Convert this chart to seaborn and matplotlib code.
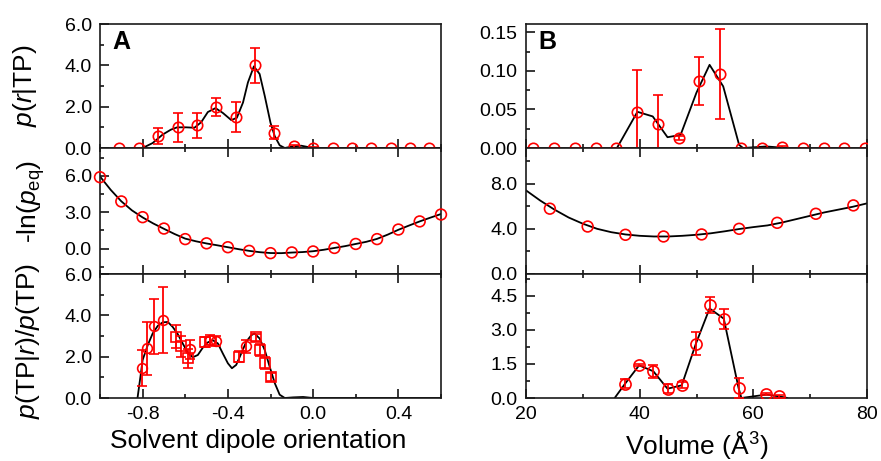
import numpy as np
import pandas as pd
import seaborn as sns
import matplotlib
matplotlib.use("Agg")
import matplotlib.pyplot as plt
from matplotlib.ticker import MultipleLocator, FormatStrFormatter

# ---------------- data ----------------
# Panel A, top: p(r|TP)
a1_x = [-0.909, -0.818, -0.727, -0.636, -0.545, -0.455, -0.364, -0.273, -0.182,
        -0.091, 0.0, 0.091, 0.182, 0.273, 0.364, 0.455, 0.545]
a1_y = [0, 0, 0.57, 1.0, 1.1, 1.98, 1.5, 4.0, 0.75, 0.08, 0.0, 0.0, 0.0, 0, 0, 0, 0]
a1_err = [0, 0, 0.4, 0.7, 0.6, 0.42, 0.72, 0.86, 0.33, 0.06, 0.03, 0.02, 0.02, 0, 0, 0, 0]
a1_line_x = [-0.8, -0.753, -0.706, -0.667, -0.638, -0.596, -0.557, -0.525, -0.494,
             -0.458, -0.424, -0.384, -0.358, -0.329, -0.306, -0.278, -0.251, -0.227,
             -0.2, -0.18, -0.157, -0.133, -0.094, -0.055, -0.016, 0.016, 0.6]
a1_line_y = [0, 0.24, 0.65, 0.89, 1.0, 1.0, 0.98, 1.25, 1.74, 1.93, 1.7, 1.35, 1.46,
             2.2, 3.17, 3.95, 3.58, 2.52, 1.22, 0.57, 0.13, 0, 0.08, 0.11, 0.03, 0, 0]

# Panel A, middle: -ln(p_eq)
a2_x = [-1.0, -0.9, -0.8, -0.7, -0.6, -0.5, -0.4, -0.3, -0.2, -0.1, 0.0, 0.1, 0.2,
        0.3, 0.4, 0.5, 0.6]
a2_y = [5.89, 3.89, 2.59, 1.65, 0.78, 0.43, 0.11, -0.19, -0.38, -0.32, -0.24, 0.05,
        0.38, 0.78, 1.57, 2.24, 2.81]
a2_line_x = [-1.0, -0.95, -0.9, -0.85, -0.8, -0.75, -0.7, -0.65, -0.6, -0.55, -0.5,
             -0.45, -0.4, -0.35, -0.3, -0.25, -0.2, -0.15, -0.1, -0.05, 0.0, 0.05,
             0.1, 0.15, 0.2, 0.25, 0.3, 0.35, 0.4, 0.45, 0.5, 0.55, 0.6]
a2_line_y = [5.95, 4.85, 3.9, 3.15, 2.57, 2.07, 1.63, 1.2, 0.82, 0.6, 0.42, 0.27,
             0.11, -0.05, -0.19, -0.3, -0.37, -0.38, -0.33, -0.29, -0.22, -0.1, 0.05,
             0.2, 0.38, 0.56, 0.8, 1.15, 1.55, 1.9, 2.24, 2.55, 2.85]

# Panel A, bottom: p(TP|r)/p(TP)
a3_circ_x = [-0.803, -0.781, -0.745, -0.706, -0.577, -0.483, -0.455, -0.314]
a3_circ_y = [1.44, 2.4, 3.47, 3.76, 2.35, 2.8, 2.77, 2.5]
a3_circ_err = [0.88, 1.28, 1.32, 1.6, 0.45, 0.25, 0.25, 0.3]
a3_sq_x = [-0.643, -0.62, -0.588, -0.505, -0.348, -0.267, -0.251, -0.227, -0.196]
a3_sq_y = [2.96, 2.5, 1.92, 2.72, 2.0, 2.93, 2.32, 1.68, 1.0]
a3_sq_err = [0.56, 0.5, 0.45, 0.25, 0.28, 0.16, 0.3, 0.28, 0.2]
a3_line_x = [-0.824, -0.808, -0.80, -0.776, -0.753, -0.729, -0.706, -0.682, -0.659,
             -0.635, -0.612, -0.588, -0.565, -0.541, -0.518, -0.494, -0.471, -0.447,
             -0.424, -0.4, -0.381, -0.361, -0.337, -0.314, -0.29, -0.275, -0.251,
             -0.227, -0.204, -0.18, -0.157, -0.133, -0.094, -0.047, 0.0, 0.6]
a3_line_y = [0, 1.2, 1.84, 2.56, 3.12, 3.49, 3.66, 3.68, 3.44, 3.09, 2.64, 2.19, 1.97,
             2.08, 2.43, 2.69, 2.8, 2.64, 2.16, 1.68, 1.44, 1.6, 2.16, 2.72, 3.04, 3.12,
             2.88, 2.32, 1.52, 0.72, 0.16, 0, 0.03, 0.05, 0, 0]

# Panel B, top
b1_x = [21.3, 24.9, 28.6, 32.3, 35.9, 39.6, 43.3, 46.9, 50.5, 54.1, 57.8, 61.5,
        65.1, 68.8, 72.4, 76.0, 79.7]
b1_y = [0, 0, 0, 0, 0, 0.047, 0.031, 0.013, 0.087, 0.096, 0, 0, 0.001, 0, 0, 0, 0]
b1_err = [0, 0, 0, 0, 0, 0.054, 0.038, 0.003, 0.031, 0.058, 0, 0, 0.002, 0, 0, 0, 0]
b1_line_x = [36.0, 39.6, 42.3, 44.9, 47.2, 50.0, 52.3, 54.7, 57.5, 58.2, 62.3, 65.8]
b1_line_y = [0, 0.047, 0.041, 0.014, 0.017, 0.072, 0.108, 0.080, 0.004, 0, 0.002, 0]

# Panel B, middle
b2_x = [24.2, 30.85, 37.5, 44.2, 50.9, 57.5, 64.2, 71.0, 77.6]
b2_y = [5.78, 4.2, 3.47, 3.32, 3.5, 4.0, 4.53, 5.33, 6.07]
b2_line_x = [20, 22.5, 25, 27.5, 30, 32.5, 35, 37.5, 40, 42.5, 45, 47.5, 50, 52.5,
             55, 57.5, 60, 62.5, 65, 67.5, 70, 72.5, 75, 77.5, 80]
b2_line_y = [7.4, 6.5, 5.7, 5.0, 4.45, 4.0, 3.7, 3.5, 3.38, 3.32, 3.32, 3.38, 3.47,
             3.6, 3.78, 3.98, 4.15, 4.3, 4.55, 4.85, 5.15, 5.45, 5.7, 5.95, 6.25]

# Panel B, bottom
b3_x = [37.4, 39.9, 42.4, 44.9, 47.4, 49.9, 52.3, 54.8, 57.4, 62.3, 64.6]
b3_y = [0.62, 1.44, 1.18, 0.41, 0.56, 2.4, 4.09, 3.5, 0.44, 0.18, 0.07]
b3_err = [0.2, 0.05, 0.29, 0.19, 0.14, 0.49, 0.35, 0.44, 0.44, 0.06, 0.05]
b3_line_x = [35.6, 37.4, 39.9, 42.4, 44.9, 47.4, 49.9, 52.3, 54.8, 57.4, 57.9, 62.3, 64.6, 66.0]
b3_line_y = [0, 0.62, 1.44, 1.18, 0.41, 0.56, 2.4, 3.95, 3.5, 0.44, 0, 0.15, 0.07, 0]

# ---------------- style ----------------
sns.set_style("ticks")
plt.rcParams["font.family"] = ["Liberation Sans", "DejaVu Sans"]
plt.rcParams["mathtext.fontset"] = "custom"
plt.rcParams["mathtext.rm"] = "Liberation Sans"
plt.rcParams["mathtext.it"] = "Liberation Sans:italic"
plt.rcParams["mathtext.bf"] = "Liberation Sans:bold"
plt.rcParams["axes.linewidth"] = 1.2
plt.rcParams["text.color"] = "black"
plt.rcParams["axes.labelcolor"] = "black"
plt.rcParams["axes.edgecolor"] = "black"
plt.rcParams["xtick.color"] = "black"
plt.rcParams["ytick.color"] = "black"

W, H = 881, 461
fig = plt.figure(figsize=(W / 100, H / 100), dpi=100)

def fx(px):
    return px / W

rows = [(24, 148), (148, 274), (274, 398)]
colsA = (100, 441)
colsB = (526, 867)

def make_ax(col, row):
    l, r = col
    t, b = row
    return fig.add_axes([fx(l), 1 - b / H, (r - l) / W, (b - t) / H])

axA = [make_ax(colsA, r) for r in rows]
axB = [make_ax(colsB, r) for r in rows]

RED = "#ff0000"
TICK_FS = 14
LAB_FS = 19

def style_ax(ax, top_ticks):
    ax.tick_params(which="both", direction="in", top=top_ticks, right=False,
                   bottom=True, left=True, width=1.1, labelsize=TICK_FS, pad=6,
                   colors="black")
    ax.tick_params(which="major", length=6.5)
    ax.tick_params(which="minor", length=3)
    for s in ax.spines.values():
        s.set_linewidth(1.2)
        s.set_color("#1a1a1a")

def line(ax, xs, ys):
    df = pd.DataFrame({"x": xs, "y": ys})
    sns.lineplot(data=df, x="x", y="y", ax=ax, color="black", linewidth=1.3,
                 sort=False, estimator=None, zorder=2)

def pts(ax, xs, ys, es=None, marker="o", ms=7.5):
    ax.errorbar(xs, ys, yerr=es, fmt=marker, mfc="none", mec=RED, mew=1.2, ms=ms,
                ecolor=RED, elinewidth=1.3, capsize=3.4, capthick=1.3, zorder=3)

# ---- Panel A ----
ax = axA[0]
line(ax, a1_line_x, a1_line_y)
pts(ax, a1_x, a1_y, a1_err)
ax.set_ylim(0, 6.0)
ax.yaxis.set_major_locator(MultipleLocator(2.0))
ax.yaxis.set_minor_locator(MultipleLocator(1.0))
ax.yaxis.set_major_formatter(FormatStrFormatter("%.1f"))

ax = axA[1]
line(ax, a2_line_x, a2_line_y)
sns.scatterplot(x=a2_x, y=a2_y, ax=ax, marker="o", s=60, facecolor="none",
                edgecolor=RED, linewidth=1.2, zorder=3, clip_on=False)
ax.set_ylim(-2.1, 8.3)
ax.yaxis.set_major_locator(MultipleLocator(3.0))
ax.yaxis.set_minor_locator(MultipleLocator(1.5))
ax.yaxis.set_major_formatter(FormatStrFormatter("%.1f"))

ax = axA[2]
line(ax, a3_line_x, a3_line_y)
pts(ax, a3_circ_x, a3_circ_y, a3_circ_err, marker="o", ms=7)
pts(ax, a3_sq_x, a3_sq_y, a3_sq_err, marker="s", ms=6.5)
ax.set_ylim(0, 6.0)
ax.yaxis.set_major_locator(MultipleLocator(2.0))
ax.yaxis.set_minor_locator(MultipleLocator(1.0))
ax.yaxis.set_major_formatter(FormatStrFormatter("%.1f"))

for i, ax in enumerate(axA):
    ax.set_xlim(-1.0, 0.6)
    ax.xaxis.set_major_locator(MultipleLocator(0.4))
    ax.xaxis.set_minor_locator(MultipleLocator(0.2))
    ax.xaxis.set_major_formatter(FormatStrFormatter("%.1f"))
    style_ax(ax, top_ticks=(i > 0))
    ax.set_xlabel("")
    ax.set_ylabel("")
    if i < 2:
        ax.tick_params(labelbottom=False)

axA[0].set_ylabel(r"$p$($r$|TP)", fontsize=LAB_FS)
axA[0].yaxis.set_label_coords(-0.18, 0.5)
axA[1].set_ylabel(r"-ln($p_{\mathrm{eq}}$)", fontsize=LAB_FS)
axA[1].yaxis.set_label_coords(-0.155, 0.58)
axA[2].set_ylabel(r"$p$(TP|$r$)/$p$(TP)", fontsize=LAB_FS)
axA[2].yaxis.set_label_coords(-0.17, 0.46)
axA[2].set_xlabel("Solvent dipole orientation", fontsize=LAB_FS, labelpad=4)
axA[2].xaxis.label.set_x(0.465)

# ---- Panel B ----
ax = axB[0]
line(ax, b1_line_x, b1_line_y)
pts(ax, b1_x, b1_y, b1_err)
ax.set_ylim(0, 0.161)
ax.yaxis.set_major_locator(MultipleLocator(0.05))
ax.yaxis.set_minor_locator(MultipleLocator(0.025))
ax.yaxis.set_major_formatter(FormatStrFormatter("%.2f"))

ax = axB[1]
line(ax, b2_line_x, b2_line_y)
sns.scatterplot(x=b2_x, y=b2_y, ax=ax, marker="o", s=60, facecolor="none",
                edgecolor=RED, linewidth=1.2, zorder=3)
ax.set_ylim(0, 11.15)
ax.yaxis.set_major_locator(MultipleLocator(4.0))
ax.yaxis.set_minor_locator(MultipleLocator(2.0))
ax.yaxis.set_major_formatter(FormatStrFormatter("%.1f"))

ax = axB[2]
line(ax, b3_line_x, b3_line_y)
pts(ax, b3_x, b3_y, b3_err, ms=8)
ax.set_ylim(0, 5.47)
ax.yaxis.set_major_locator(MultipleLocator(1.5))
ax.yaxis.set_minor_locator(MultipleLocator(0.75))
ax.yaxis.set_major_formatter(FormatStrFormatter("%.1f"))

for i, ax in enumerate(axB):
    ax.set_xlim(20, 80)
    ax.xaxis.set_major_locator(MultipleLocator(20))
    ax.xaxis.set_minor_locator(MultipleLocator(10))
    ax.xaxis.set_major_formatter(FormatStrFormatter("%d"))
    style_ax(ax, top_ticks=(i > 0))
    ax.set_xlabel("")
    ax.set_ylabel("")
    if i < 2:
        ax.tick_params(labelbottom=False)

axB[2].set_xlabel("Volume (Å$^3$)", fontsize=LAB_FS, labelpad=4)

# panel letters
axA[0].text(0.035, 0.95, "A", transform=axA[0].transAxes, fontsize=18,
            fontweight="bold", va="top", ha="left")
axB[0].text(0.035, 0.95, "B", transform=axB[0].transAxes, fontsize=18,
            fontweight="bold", va="top", ha="left")

fig.savefig("out.png", dpi=100)
